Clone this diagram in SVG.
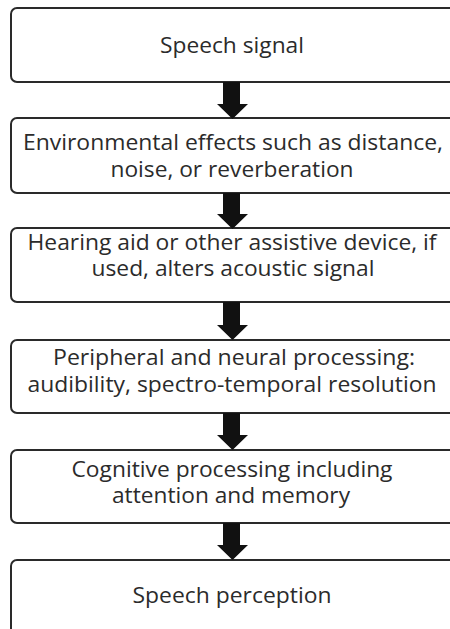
<svg xmlns="http://www.w3.org/2000/svg" width="450" height="629" viewBox="0 0 450 629">
<style>
.box{fill:#fff;stroke:#2a2a2a;stroke-width:2}
.t{font-family:"Open Sans","Noto Sans","Liberation Sans",sans-serif;font-size:21px;fill:#2b2b2b;text-anchor:middle}
.arr{fill:#111}
</style>
<rect width="450" height="629" fill="#fff"/>
<g id="n1"><rect class="box" x="11" y="8" width="452" height="74" rx="6"/><text class="t" x="232" y="53" textLength="144" lengthAdjust="spacingAndGlyphs">Speech signal</text></g>
<g id="n2"><rect class="box" x="11" y="118" width="452" height="75" rx="6"/><text class="t" x="233" y="150" textLength="420" lengthAdjust="spacingAndGlyphs">Environmental effects such as distance,</text><text class="t" x="232" y="177" textLength="243" lengthAdjust="spacingAndGlyphs">noise, or reverberation</text></g>
<g id="n3"><rect class="box" x="11" y="228" width="452" height="74" rx="6"/><text class="t" x="232" y="250" textLength="409" lengthAdjust="spacingAndGlyphs">Hearing aid or other assistive device, if</text><text class="t" x="233" y="276" textLength="283" lengthAdjust="spacingAndGlyphs">used, alters acoustic signal</text></g>
<g id="n4"><rect class="box" x="11" y="340" width="452" height="73" rx="6"/><text class="t" x="234" y="365" textLength="362" lengthAdjust="spacingAndGlyphs">Peripheral and neural processing:</text><text class="t" x="232" y="392" textLength="409" lengthAdjust="spacingAndGlyphs">audibility, spectro-temporal resolution</text></g>
<g id="n5"><rect class="box" x="11" y="450" width="452" height="73" rx="6"/><text class="t" x="232" y="477" textLength="321" lengthAdjust="spacingAndGlyphs">Cognitive processing including</text><text class="t" x="231" y="503" textLength="238" lengthAdjust="spacingAndGlyphs">attention and memory</text></g>
<g id="n6"><rect class="box" x="11" y="560" width="452" height="90" rx="6"/><text class="t" x="232" y="603" textLength="199" lengthAdjust="spacingAndGlyphs">Speech perception</text></g>
<g id="connectors">
<path class="arr" d="M223 82H240V104H248L232.5 119L217 104H223Z"/>
<path class="arr" d="M223 193H240V214H248L232.5 229L217 214H223Z"/>
<path class="arr" d="M223 302H240V325H248L232.5 340L217 325H223Z"/>
<path class="arr" d="M223 413H240V435H248L232.5 450L217 435H223Z"/>
<path class="arr" d="M223 523H240V545H248L232.5 560L217 545H223Z"/>
</g>
</svg>
